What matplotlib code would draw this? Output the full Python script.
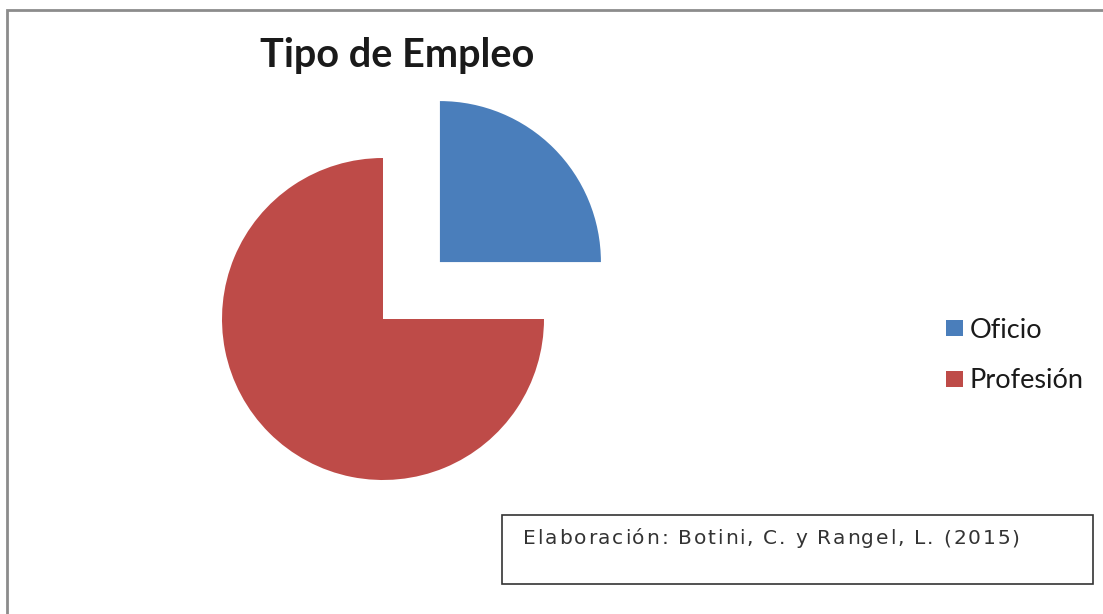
import matplotlib
matplotlib.use("Agg")
import matplotlib.pyplot as plt
from matplotlib.patches import Rectangle
from matplotlib.font_manager import FontProperties

labels = ["Oficio", "Profesión"]
values = [25, 75]
colors = ["#4A7EBB", "#BE4B48"]
explode_frac = [0.5, 0]
source = "Elaboración: Botini, C. y Rangel, L. (2015)"

W, H = 1103, 614
R = 161
fig = plt.figure(figsize=(W / 100, H / 100), dpi=100)
ax = fig.add_axes([0, 0, 1, 1])

# pie drawn in pixel units (y measured from the bottom); explode is absolute here
wedges, _ = ax.pie(values, colors=colors, explode=[e * R for e in explode_frac],
                   startangle=90, counterclock=False, radius=R,
                   center=(383, H - 319), wedgeprops=dict(linewidth=0))
ax.set_xlim(0, W)
ax.set_ylim(0, H)
ax.set_aspect("equal")
ax.axis("off")

# outer border (left and top only visible)
ax.plot([7, 7, W + 5], [-5, H - 10, H - 10], color="#8c8c8c", lw=2,
        solid_joinstyle="miter", clip_on=False)

ax.text(397, H - 55, "Tipo de Empleo", fontsize=28.5, fontweight="bold",
        family="Lato", ha="center", va="center", color="#1a1a1a")

# legend
for i, lab in enumerate(labels):
    y = H - (328 + i * 51)
    ax.add_patch(Rectangle((946, y - 8), 17, 16, color=colors[i], lw=0))
    ax.text(970, y - 2, lab, fontsize=19.5, family="Lato", va="center",
            color="#1a1a1a")

# source box
ax.add_patch(Rectangle((502, H - 584), 591, 69, fill=False,
                       edgecolor="#333333", lw=1.2))

# source text with a bit of extra letter spacing
prop = FontProperties(family="DejaVu Sans", size=14.5)
rend = fig.canvas.get_renderer()
def tw(s):
    return rend.get_text_width_height_descent(s, prop, ismath=False)[0]
track = 1.8
for i, ch in enumerate(source):
    if ch == " ":
        continue
    x = 523 + tw(source[:i + 1]) - tw(ch) + i * track
    ax.text(x, H - 537, ch, fontproperties=prop, va="center_baseline",
            color="#333333")

fig.savefig("out.png", dpi=100)
